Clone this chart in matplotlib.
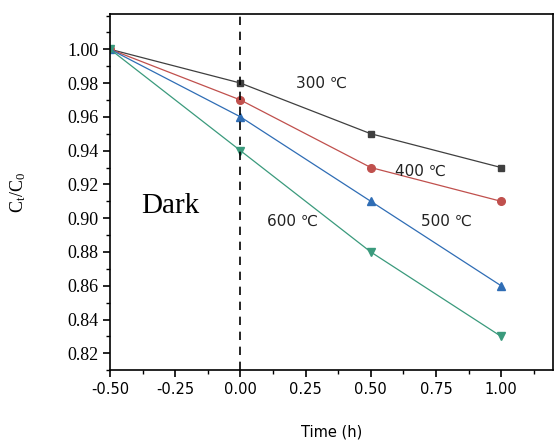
import matplotlib.pyplot as plt
from matplotlib.ticker import MultipleLocator

time = [-0.5, 0.0, 0.5, 1.0]
c300 = [1.00, 0.98, 0.95, 0.93]
c400 = [1.00, 0.97, 0.93, 0.91]
c500 = [1.00, 0.96, 0.91, 0.86]
c600 = [1.00, 0.94, 0.88, 0.83]

labels = ['300 \u2103', '400 \u2103', '500 \u2103', '600 \u2103']
label_pos = [(0.31, 0.980), (0.69, 0.928), (0.79, 0.898), (0.20, 0.898)]

fig = plt.figure(figsize=(5.56, 4.46), dpi=100)
ax = fig.add_axes([0.198, 0.170, 0.797, 0.799])

ax.plot(time, c300, '-s', color='#3f3f3f', ms=5, lw=0.9)
ax.plot(time, c400, '-o', color='#c0504d', ms=5.5, lw=0.9)
ax.plot(time, c500, '-^', color='#2f6db5', ms=5.5, lw=0.9)
ax.plot(time, c600, '-v', color='#3a9a7c', ms=5.5, lw=0.9)

ax.axvline(0.0, color='black', ls=(0, (5, 4)), lw=1.2)

for txt, (x, y) in zip(labels, label_pos):
    ax.text(x, y, txt, ha='center', va='center', fontsize=11,
            family=['DejaVu Sans'], color='#222222')
ax.text(-0.27, 0.907, 'Dark', ha='center', va='center', fontsize=21,
        family='Liberation Serif')

ax.set_xlim(-0.5, 1.2)
ax.set_ylim(0.81, 1.021)
ax.xaxis.set_minor_locator(MultipleLocator(0.125))
ax.yaxis.set_minor_locator(MultipleLocator(0.01))
ax.set_xticks([-0.5, -0.25, 0, 0.25, 0.5, 0.75, 1.0])
ax.set_xticklabels(['-0.50', '-0.25', '0.00', '0.25', '0.50', '0.75', '1.00'])
yt = [0.82, 0.84, 0.86, 0.88, 0.90, 0.92, 0.94, 0.96, 0.98, 1.00]
ax.set_yticks(yt)
ax.set_yticklabels(['%.2f' % v for v in yt])
ax.tick_params(which='major', direction='out', length=5, width=1.2)
ax.tick_params(which='minor', direction='out', length=3, width=1)
for lab in ax.get_yticklabels():
    lab.set_family('Liberation Serif')
    lab.set_fontsize(13)
for lab in ax.get_xticklabels():
    lab.set_fontsize(10.5)
for sp in ax.spines.values():
    sp.set_linewidth(1.2)

ax.set_xlabel('Time (h)', fontsize=10.5, labelpad=20)
ax.set_ylabel(r'$\mathregular{C_t/C_0}$', fontsize=13,
              family='Liberation Serif', labelpad=28)

fig.savefig('out.png', dpi=100)
